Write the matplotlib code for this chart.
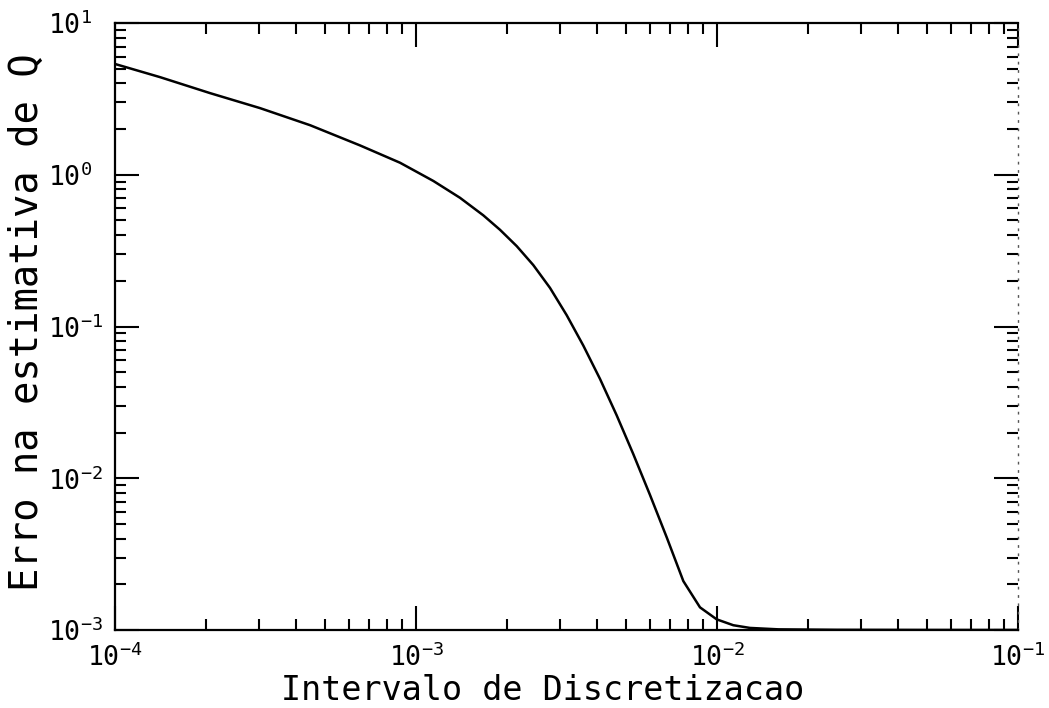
import numpy as np
import matplotlib
matplotlib.use("Agg")
import matplotlib.pyplot as plt
from matplotlib.ticker import LogLocator, FixedLocator, FixedFormatter, NullFormatter

plt.rcParams['font.family'] = ['DejaVu Sans Mono']

# curve (step size vs. error in Q)
dx = [1.0e-4, 1.41e-4, 2.07e-4, 3.03e-4, 4.45e-4, 6.52e-4, 8.85e-4,
      1.142e-3, 1.40e-3, 1.674e-3, 1.901e-3, 2.161e-3, 2.453e-3, 2.787e-3,
      3.167e-3, 3.596e-3, 4.086e-3, 4.642e-3, 5.27e-3, 5.99e-3, 6.81e-3,
      7.73e-3, 8.78e-3, 9.98e-3, 1.133e-2, 1.287e-2, 1.6e-2, 2.5e-2,
      5.0e-2, 1.0e-1]
err = [5.37, 4.40, 3.45, 2.75, 2.12, 1.56, 1.20,
       0.910, 0.705, 0.540, 0.434, 0.3385, 0.2539, 0.1797,
       0.1187, 0.0749, 0.04514, 0.02598, 0.01444, 0.00776, 0.00407,
       0.00210, 0.00141, 0.001175, 0.001075, 0.001032, 0.00101, 0.001003,
       0.001001, 0.0010005]

xticks = [1e-4, 1e-3, 1e-2, 1e-1]
xticklabels = [r'$\mathregular{10^{-4}}$', r'$\mathregular{10^{-3}}$',
               r'$\mathregular{10^{-2}}$', r'$\mathregular{10^{-1}}$']
yticks = [1e-3, 1e-2, 1e-1, 1e0, 1e1]
yticklabels = [r'$\mathregular{10^{-3}}$', r'$\mathregular{10^{-2}}$',
               r'$\mathregular{10^{-1}}$', r'$\mathregular{10^{0}}$',
               r'$\mathregular{10^{1}}$']

fig = plt.figure(figsize=(10.49, 7.08), dpi=100)
ax = fig.add_axes([115/1049, 1 - 630/708, (1018 - 115)/1049, (630 - 23)/708])

ax.plot(dx, err, color='black', lw=1.8)

ax.set_xscale('log')
ax.set_yscale('log')
ax.set_xlim(1e-4, 1e-1)
ax.set_ylim(1e-3, 1e1)

ax.xaxis.set_major_locator(FixedLocator(xticks))
ax.xaxis.set_major_formatter(FixedFormatter(xticklabels))
ax.yaxis.set_major_locator(FixedLocator(yticks))
ax.yaxis.set_major_formatter(FixedFormatter(yticklabels))
ax.xaxis.set_minor_locator(LogLocator(base=10, subs=np.arange(2, 10)))
ax.yaxis.set_minor_locator(LogLocator(base=10, subs=np.arange(2, 10)))
ax.xaxis.set_minor_formatter(NullFormatter())
ax.yaxis.set_minor_formatter(NullFormatter())

ax.tick_params(which='both', direction='in', top=True, right=True,
               width=1.5, labelsize=19, colors='black')
ax.tick_params(which='major', length=17)
ax.tick_params(axis='x', which='major', pad=10)
ax.tick_params(axis='y', which='major', pad=48)
ax.tick_params(which='minor', length=8)
for lab in ax.get_yticklabels():
    lab.set_horizontalalignment('left')

for s in ['left', 'bottom', 'top']:
    ax.spines[s].set_linewidth(1.6)
ax.spines['right'].set_linewidth(1.0)
ax.spines['right'].set_linestyle((0, (1, 5)))
ax.spines['right'].set_color('#555555')

ax.set_xlabel('Intervalo de Discretizacao', fontsize=24, va='center')
ax.set_ylabel('Erro na estimativa de Q', fontsize=28, va='center')
ax.xaxis.set_label_coords(0.474, -0.099)
ax.yaxis.set_label_coords(-0.0975, 0.507)

fig.savefig('out.png', dpi=100)
